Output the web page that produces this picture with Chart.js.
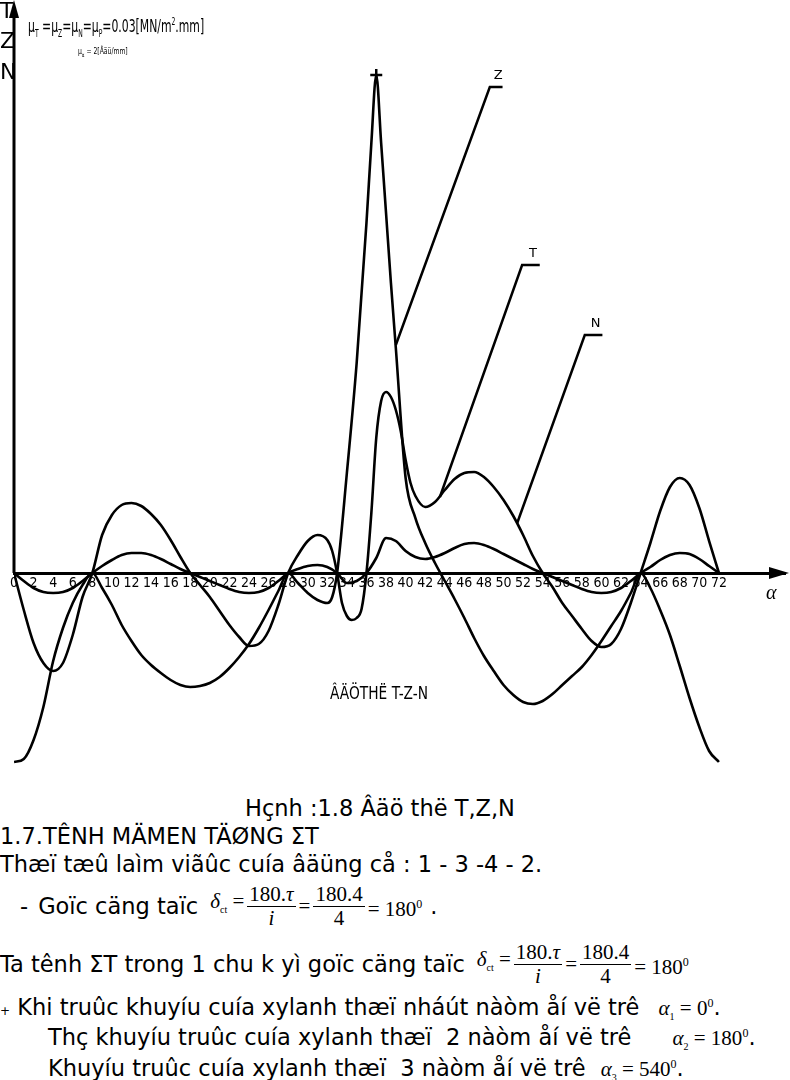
<!DOCTYPE html>
<html>
<head>
<meta charset="utf-8">
<script src="https://cdn.jsdelivr.net/npm/chart.js@4.4.1/dist/chart.umd.min.js"></script>
<style>
body{margin:0;width:790px;height:1080px;position:relative;background:#fff;overflow:hidden;color:#000;
  font-family:"DejaVu Sans",sans-serif}
#wrap{position:absolute;left:0;top:0;width:790px;height:775px}
.ov{position:absolute;white-space:nowrap;line-height:1}
.nar{font-family:"DejaVu Sans Condensed","DejaVu Sans",sans-serif;transform-origin:0 0}
.ln{position:absolute;white-space:nowrap;font-size:22.5px;line-height:26px}
.m{font-family:"Liberation Serif","DejaVu Serif",serif;font-size:21px}
.fr{display:inline-flex;flex-direction:column;align-items:center;vertical-align:middle;line-height:23px;margin:0 5px}
.fr .dn{border-top:1px solid #000;padding:0 2px;width:100%;text-align:center}
.m sub{font-size:10px}
.m sup{font-size:12px}
</style>
</head>
<body>
<div id="wrap"><canvas id="graficaTZN" width="790" height="775"></canvas></div>

<div class="ov" style="left:0;top:0;font-size:22px">T</div>
<div class="ov" style="left:0;top:30px;font-size:22px">Z</div>
<div class="ov" style="left:0;top:61px;font-size:22px">N</div>
<div class="ov nar" style="left:28px;top:17px;font-size:18px;transform:scaleX(0.67)">μ<sub style="font-size:10px">T</sub> =μ<sub style="font-size:10px">Z</sub>=μ<sub style="font-size:10px">N</sub>=μ<sub style="font-size:10px">P</sub>=0.03[MN/m<sup style="font-size:10px">2</sup>.mm]</div>
<div class="ov nar" style="left:78px;top:47px;font-size:9px;transform:scaleX(0.75)">μ<sub style="font-size:6px">α</sub> = 2[Âäü/mm]</div>
<div class="ov nar" style="left:330px;top:684px;font-size:18px;transform:scaleX(0.85)">ÂÄÖTHË T-Z-N</div>
<div class="ov m" style="left:766px;top:582px;font-size:20px;font-style:italic">α</div>

<div class="ln" style="left:245px;top:795px">Hçnh :1.8 Âäö thë T,Z,N</div>
<div class="ln" style="left:0;top:823px">1.7.TÊNH MÄMEN TÄØNG ΣT</div>
<div class="ln" style="left:0;top:851px">Thæï tæû laìm viãûc cuía âäüng cå : 1 - 3 -4 - 2.</div>
<div class="ln" style="left:20px;top:881px;height:50px;display:flex;align-items:center">
  <span>-</span><span style="margin-left:10px;margin-right:12px">Goïc cäng taïc</span>
  <span class="m"><i>δ</i><sub>ct</sub> = </span>
  <span class="m fr"><span>180.<i>τ</i></span><span class="dn"><i>i</i></span></span>
  <span class="m">=</span>
  <span class="m fr"><span>180.4</span><span class="dn">4</span></span>
  <span class="m">= 180<sup>0</sup></span><span style="margin-left:8px">.</span>
</div>
<div class="ln" style="left:0;top:939px;height:50px;display:flex;align-items:center">
  <span style="margin-right:12px">Ta tênh ΣT trong 1 chu k yì goïc cäng taïc</span>
  <span class="m"><i>δ</i><sub>ct</sub> = </span>
  <span class="m fr"><span>180.<i>τ</i></span><span class="dn"><i>i</i></span></span>
  <span class="m">=</span>
  <span class="m fr"><span>180.4</span><span class="dn">4</span></span>
  <span class="m">= 180<sup>0</sup></span>
</div>
<div class="ln" style="left:0;top:990px"><span style="font-size:12px">+</span> Khi truûc khuyíu cuía xylanh thæï nháút nàòm åí vë trê <span class="m" style="margin-left:12px"><i>α</i><sub>1</sub> = 0<sup>0</sup></span>.</div>
<div class="ln" style="left:48px;top:1020px">Thç khuyíu truûc cuía xylanh thæï&nbsp; 2 nàòm åí vë trê <span class="m" style="margin-left:34px"><i>α</i><sub>2</sub> = 180<sup>0</sup></span>.</div>
<div class="ln" style="left:48px;top:1051px">Khuyíu truûc cuía xylanh thæï&nbsp; 3 nàòm åí vë trê <span class="m" style="margin-left:8px"><i>α</i><sub>3</sub> = 540<sup>0</sup></span>.</div>

<script>
// goc quay truc khuyu (x10 do) va gia tri do thi [mm]
var zAlpha = [0,1,2,3,4,5,6,7,8,9,10,11,12,13,14,15,16,17,18,19,20,21,22,23,24,25,26,27,28,29,30,31,32,32.5,33,34,35,36,36.5,37,37.5,38,38.5,39,40,41,42,43,44,45,46,47,48,49,50,51,52,53,54,55,56,57,58,59,60,61,62,63,64,65,66,67,68,69,70,71,72];
var zVals = [-189,-186,-167,-134,-88,-55,-30,-12,0,
    -15,-32,-52,-68,-82,-92,-100,-107,-112,-114,
    -113,-110,-104,-95,-84,-71,-55,-37,-18,0,
    -10,-20,-27,-30,-24,0,100,210,350,
    430,498,430,360,290,225,
    95,55,30,10,-8,
    -26,-45,-65,-83,-98,-112,-122,-129,-131,-128,
    -121,-112,-103,-94,-82,-68,-53,-38,-20,0,
    -15,-37,-62,-93,-125,-154,-178,-189];

var tAlpha = [0,1,2,3,4,5,6,7,8,9,10,11,12,13,14,15,16,17,18,19,20,21,22,23,24,25,26,27,28,29,30,31,32,32.5,33,33.5,34,34.5,35,35.5,36,36.5,37,37.5,38,38.5,39,39.5,40,40.5,41,42,43,44,45,46,47,48,49,50,51,52,53,54,55,56,57,58,59,60,61,62,63,64,65,66,67,68,69,70,71,72];
var tVals = [0,-37,-70,-90,-98,-90,-62,-24,0,
    38,58,68,70,67,59,48,33,16,0,
    -12,-24,-38,-52,-64,-73,-71,-58,-32,0,
    18,32,38,33,
    22,0,-30,-43,-47,-45,-36,0,
    60,135,172,181,176,163,142,113,90,77,
    66,71,83,94,100,101,96,86,73,57,38,17,0,
    -14,-30,-43,-56,-68,-74,-71,-56,-30,0,
    30,62,86,95,88,65,32,0];

var nAlpha = [0,1,2,3,4,5,6,7,8,9,10,11,12,13,14,15,16,17,18,19,20,21,22,23,24,25,26,27,28,29,30,31,32,33,34,35,36,37,38,39,40,41,42,43,44,45,46,47,48,49,50,51,52,53,54,55,56,57,58,59,60,61,62,63,64,65,66,67,68,69,70,71,72];
var nVals = [0,-8,-15,-19,-20,-19,-15,-8,0,
    7,13,18,20,20,18,14,9,4,0,
    -4,-8,-12,-16,-19,-20,-19,-15,-8,0,
    4,7,8,6,0,
    -10,-8,0,
    15,35,32,22,16,14,16,20,25,29,30,28,24,19,14,9,4,0,
    -4,-8,-12,-16,-19,-20,-19,-15,-8,0,
    6,13,18,20,19,14,7,0];

var xTicks = [0,2,4,6,8,10,12,14,16,18,20,22,24,26,28,30,32,34,36,38,40,42,44,46,48,50,52,54,56,58,60,62,64,66,68,70,72];

// duong chi dan ten do thi: [alpha, gia tri] diem dau, goc, cuoi
var chiDan = [
    {txt:'Z', a:[39,228], b:[48.6,486], c:[49.9,486]},
    {txt:'T', a:[43.5,76], b:[51.9,308], c:[53.7,308]},
    {txt:'N', a:[51.4,50], b:[58.3,238], c:[60.1,238]}
];

function hasFont(f){
    var c = document.createElement('canvas').getContext('2d');
    var s = 'mmmwwwiiil1058';
    c.font = '40px monospace';
    var w1 = c.measureText(s).width;
    c.font = '40px "' + f + '", monospace';
    return c.measureText(s).width !== w1;
}
var fontHep = hasFont('Liberation Sans Narrow') ? 'Liberation Sans Narrow' :
    (hasFont('DejaVu Sans Condensed') ? 'DejaVu Sans Condensed' : 'Liberation Sans');

function toPts(xs, ys){
    var out = [];
    for (var i = 0; i < xs.length; i++) out.push({x: xs[i], y: ys[i]});
    return out;
}

var peakIdx = zVals.indexOf(Math.max.apply(null, zVals));
var zRadius = zVals.map(function(v, i){ return i === peakIdx ? 6 : 0; });

var veTruc = {
    id: 'veTruc',
    afterDraw: function(chart){
        var ctx = chart.ctx, xs = chart.scales.x, ys = chart.scales.y;
        var x0 = xs.getPixelForValue(0), y0 = ys.getPixelForValue(0);
        ctx.save();
        ctx.strokeStyle = '#000'; ctx.fillStyle = '#000';
        // truc dung
        ctx.lineWidth = 3;
        ctx.beginPath(); ctx.moveTo(x0, 14); ctx.lineTo(x0, y0); ctx.stroke();
        ctx.beginPath(); ctx.moveTo(x0, 0); ctx.lineTo(x0 - 5, 18); ctx.lineTo(x0 + 5, 18); ctx.closePath(); ctx.fill();
        // mui ten truc alpha
        var xr = chart.chartArea.right;
        ctx.beginPath(); ctx.moveTo(xr + 4, y0); ctx.lineTo(xr - 16, y0 - 6); ctx.lineTo(xr - 16, y0 + 6); ctx.closePath(); ctx.fill();
        // chi dan
        ctx.lineWidth = 2.5;
        ctx.font = '13px "DejaVu Sans", sans-serif';
        ctx.textAlign = 'center'; ctx.textBaseline = 'bottom';
        chiDan.forEach(function(d){
            var ax = xs.getPixelForValue(d.a[0]), ay = ys.getPixelForValue(d.a[1]);
            var bx = xs.getPixelForValue(d.b[0]), by = ys.getPixelForValue(d.b[1]);
            var cx = xs.getPixelForValue(d.c[0]);
            ctx.beginPath(); ctx.moveTo(ax, ay); ctx.lineTo(bx, by); ctx.lineTo(cx, by); ctx.stroke();
            ctx.fillText(d.txt, (bx + cx) / 2 + 2, by - 5);
        });
        ctx.restore();
    }
};

var canvas = document.getElementById('graficaTZN').getContext('2d');
var lineBase = {borderColor: '#000', borderWidth: 2.6, pointRadius: 0, fill: false,
    cubicInterpolationMode: 'monotone'};
var chartTZN = new Chart(canvas, {
    type: 'line',
    data: {
        datasets: [
            Object.assign({label: 'Z', data: toPts(zAlpha, zVals),
                pointStyle: 'cross', pointBorderColor: '#000', pointBorderWidth: 2.5}, lineBase, {pointRadius: zRadius}),
            Object.assign({label: 'T', data: toPts(tAlpha, tVals)}, lineBase),
            Object.assign({label: 'N', data: toPts(nAlpha, nVals)}, lineBase)
        ]
    },
    options: {
        responsive: false,
        animation: false,
        layout: {padding: {left: 14, right: 5, top: 5, bottom: 5}},
        plugins: {legend: {display: false}, tooltip: {enabled: false}},
        scales: {
            x: {
                type: 'linear', min: 0, max: 78.75,
                position: {y: 0},
                grid: {display: false, drawTicks: false},
                border: {display: true, color: '#000', width: 3},
                afterBuildTicks: function(ax){ ax.ticks = xTicks.map(function(v){ return {value: v}; }); },
                ticks: {autoSkip: false, maxRotation: 0, padding: 2, color: '#000',
                    font: {family: fontHep, size: 14}}
            },
            y: {
                type: 'linear', min: -197, max: 568, display: false
            }
        }
    },
    plugins: [veTruc]
});
</script>
</body>
</html>
